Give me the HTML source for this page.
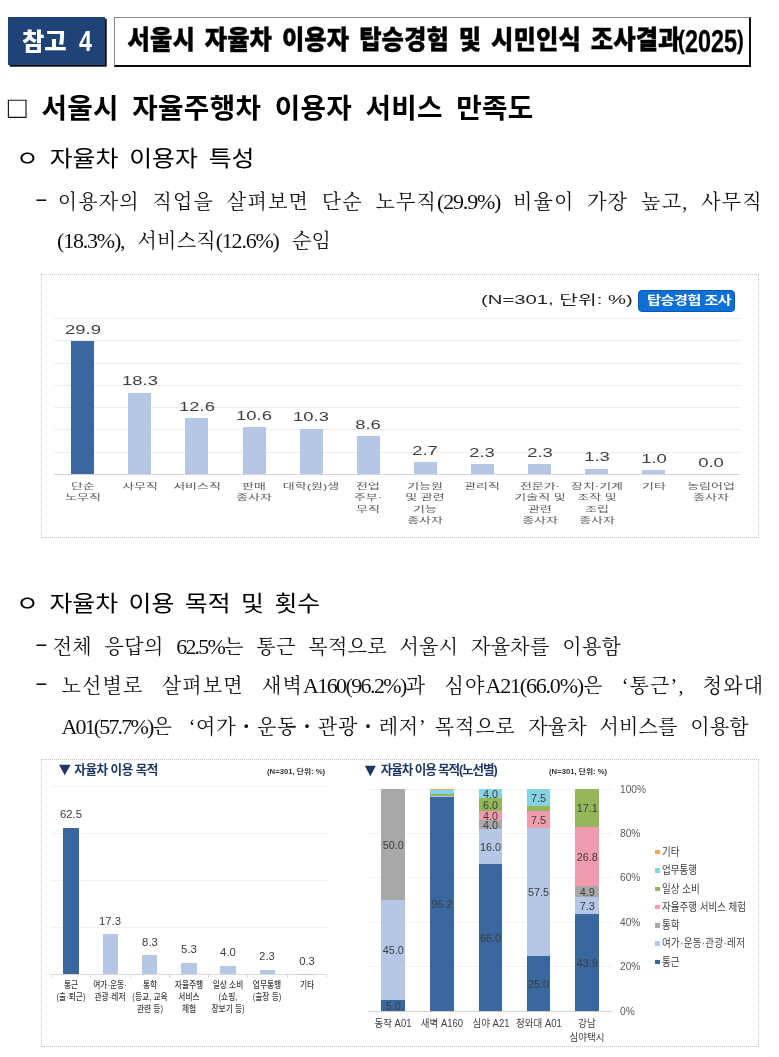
<!DOCTYPE html>
<html lang="ko">
<head>
<meta charset="utf-8">
<title>참고 4 서울시 자율차 이용자 탑승경험 및 시민인식 조사결과(2025)</title>
<style>
html,body{margin:0;padding:0;background:#fff;}
body{width:779px;height:1057px;position:relative;overflow:hidden;
  font-family:"Liberation Sans","Noto Sans CJK KR",sans-serif;color:#000;}
.abs{position:absolute;white-space:nowrap;}
.sx{display:inline-block;transform-origin:0 50%;white-space:nowrap;}
.hd{font-family:"Liberation Sans","Noto Sans CJK KR",sans-serif;font-weight:900;}
.serif{font-family:"Liberation Serif","Noto Serif CJK SC",serif;}
/* header */
#tag{left:8px;top:17px;width:96.5px;height:47.5px;background:#1f4376;box-shadow:1.7px 1.7px 0 #0c0c0c;}
#ttl{left:114px;top:16.5px;width:634px;height:47.5px;background:#fff;border-top:1px solid #8a8a8a;border-left:1px solid #8a8a8a;border-right:2px solid #0c0c0c;border-bottom:2px solid #0c0c0c;}
/* body text */
.h1{font-size:27.7px;font-weight:700;line-height:36px;}
.h2{font-size:22px;line-height:30px;font-weight:400;}
.p{font-size:20px;line-height:30px;color:#111;}
.n{font-size:22px;letter-spacing:-1.2px;}
.just{white-space:normal;text-align:justify;text-align-last:justify;}
/* charts */
.box{position:absolute;border:1px dotted #c4c4c4;background:#fff;box-sizing:border-box;}
.g{position:absolute;height:1px;background:#ececec;}
.g2{background:#f2f2f2;}
.bar{position:absolute;}
.lbl{position:absolute;text-align:center;white-space:nowrap;}
.v1{width:60px;font-size:12.3px;line-height:14px;color:#404040;transform:scaleX(1.5);}
.c1{width:80px;font-size:8.1px;line-height:11.65px;color:#5a5a5a;transform:scaleX(1.6);}
.n1{font-size:13px;line-height:18px;color:#222;}
#btn{background:#0c70d8;border:1px solid #0a58ad;border-radius:4px;box-sizing:border-box;}
.t2{font-size:12.6px;line-height:18px;font-weight:700;color:#1f3864;letter-spacing:-.5px;}
.tri{font-size:18px;line-height:18px;color:#1f3864;}
.n2{font-size:6.6px;line-height:10px;font-weight:700;color:#333;}
.v2{width:60px;font-size:11.8px;line-height:14px;color:#3c3c3c;transform:scaleX(.96);}
.c2{width:80px;font-size:9px;line-height:12.2px;color:#404040;font-weight:500;transform:scaleX(.86);}
.y2{font-size:10.2px;line-height:15px;color:#595959;}
.s2{width:60px;font-size:10.8px;line-height:14px;color:#3c3c3c;}
.r2{width:80px;font-size:10px;line-height:14px;color:#404040;transform:scaleX(.95);}
.l2{font-size:11.2px;line-height:16px;color:#404040;}
</style>
</head>
<body>

<!-- HEADER -->
<div class="abs" id="tag"></div>
<div class="abs hd" style="left:22px;top:21px;font-size:24.3px;line-height:38px;color:#fff;"><span class="sx">참고</span><span class="sx" style="margin-left:12px;font-size:29px;transform:scaleX(.8);position:relative;top:1.3px;">4</span></div>
<div class="abs" id="ttl"></div>
<div class="abs hd" style="left:127.5px;top:21px;font-size:24.3px;line-height:38px;color:#000;"><span class="sx" style="word-spacing:3px;letter-spacing:.1px;transform:scaleY(1.07);-webkit-text-stroke:.35px #000;">서울시 자율차 이용자 탑승경험 및 시민인식 조사결과</span></div>
<div class="abs hd" style="left:678px;top:21px;font-size:25.5px;line-height:38px;-webkit-text-stroke:.3px #000;"><span class="sx" style="transform:scaleX(.8);">(</span></div>
<div class="abs hd" style="left:684.5px;top:23px;font-size:31.4px;line-height:38px;-webkit-text-stroke:.3px #000;"><span class="sx" style="transform:scaleX(.745);">2025</span></div>
<div class="abs hd" style="left:737px;top:21px;font-size:25.5px;line-height:38px;-webkit-text-stroke:.3px #000;"><span class="sx" style="transform:scaleX(.8);">)</span></div>

<!-- SECTION HEADING -->
<div class="abs" style="left:7.7px;top:90px;font-size:31px;line-height:36px;font-weight:400;color:#111;">□</div>
<div class="abs h1" style="left:41.5px;top:91px;"><span class="sx" style="word-spacing:5.5px;letter-spacing:.3px;">서울시 자율주행차 이용자 서비스 만족도</span></div>

<!-- SUB 1 -->
<div class="abs h2" style="left:16px;top:143.5px;"><span class="sx" style="word-spacing:3.5px;transform:scaleX(1.13);">ㅇ 자율차 이용자 특성</span></div>
<div class="abs p serif" style="left:34.5px;top:182.5px;"><span class="sx" style="transform:scaleX(1.9);">-</span></div>
<div class="abs p serif just" style="left:57.7px;top:186.5px;width:705px;letter-spacing:1.2px;">이용자의 직업을 살펴보면 단순 노무직<span class="n">(29.9%)</span> 비율이 가장 높고, 사무직</div>
<div class="abs p serif" style="left:57px;top:226px;word-spacing:8px;letter-spacing:.2px;"><span class="n">(18.3%),</span> 서비스직<span class="n">(12.6%)</span> 순임</div>

<!-- CHART 1 -->
<div class="box" id="c1" style="left:41px;top:273.5px;width:717.5px;height:264px;"></div>
<div class="g" style="left:54px;width:686px;top:451.7px;"></div>
<div class="g" style="left:54px;width:686px;top:429.4px;"></div>
<div class="g" style="left:54px;width:686px;top:407.1px;"></div>
<div class="g" style="left:54px;width:686px;top:384.8px;"></div>
<div class="g" style="left:54px;width:686px;top:362.5px;"></div>
<div class="g" style="left:54px;width:686px;top:340.2px;"></div>
<div class="g" style="left:54px;width:686px;top:317.9px;"></div>
<div class="g" style="left:54px;width:686px;top:474px;background:#d4d4d4;"></div>
<div class="bar" style="left:71.2px;top:341.15px;width:23px;height:132.85px;background:#3b679f;"></div>
<div class="lbl v1" style="left:52.7px;top:322.65px;">29.9</div>
<div class="lbl c1" style="left:42.7px;top:480.5px;">단순<br>노무직</div>
<div class="bar" style="left:128.3px;top:392.88px;width:23px;height:81.12px;background:#b4c7e7;"></div>
<div class="lbl v1" style="left:109.8px;top:374.38px;">18.3</div>
<div class="lbl c1" style="left:99.8px;top:480.5px;">사무직</div>
<div class="bar" style="left:185.4px;top:418.3px;width:23px;height:55.7px;background:#b4c7e7;"></div>
<div class="lbl v1" style="left:166.9px;top:399.8px;">12.6</div>
<div class="lbl c1" style="left:156.9px;top:480.5px;">서비스직</div>
<div class="bar" style="left:242.5px;top:427.22px;width:23px;height:46.78px;background:#b4c7e7;"></div>
<div class="lbl v1" style="left:224px;top:408.72px;">10.6</div>
<div class="lbl c1" style="left:214px;top:480.5px;">판매<br>종사자</div>
<div class="bar" style="left:299.6px;top:428.56px;width:23px;height:45.44px;background:#b4c7e7;"></div>
<div class="lbl v1" style="left:281.1px;top:410.06px;">10.3</div>
<div class="lbl c1" style="left:271.1px;top:480.5px;">대학(원)생</div>
<div class="bar" style="left:356.7px;top:436.14px;width:23px;height:37.86px;background:#b4c7e7;"></div>
<div class="lbl v1" style="left:338.2px;top:417.64px;">8.6</div>
<div class="lbl c1" style="left:328.2px;top:480.5px;">전업<br>주부·<br>무직</div>
<div class="bar" style="left:413.8px;top:462.46px;width:23px;height:11.54px;background:#b4c7e7;"></div>
<div class="lbl v1" style="left:395.3px;top:443.96px;">2.7</div>
<div class="lbl c1" style="left:385.3px;top:480.5px;">기능원<br>및 관련<br>기능<br>종사자</div>
<div class="bar" style="left:470.9px;top:464.24px;width:23px;height:9.76px;background:#b4c7e7;"></div>
<div class="lbl v1" style="left:452.4px;top:445.74px;">2.3</div>
<div class="lbl c1" style="left:442.4px;top:480.5px;">관리직</div>
<div class="bar" style="left:528px;top:464.24px;width:23px;height:9.76px;background:#b4c7e7;"></div>
<div class="lbl v1" style="left:509.5px;top:445.74px;">2.3</div>
<div class="lbl c1" style="left:499.5px;top:480.5px;">전문가·<br>기술직 및<br>관련<br>종사자</div>
<div class="bar" style="left:585.1px;top:468.7px;width:23px;height:5.3px;background:#b4c7e7;"></div>
<div class="lbl v1" style="left:566.6px;top:450.2px;">1.3</div>
<div class="lbl c1" style="left:556.6px;top:480.5px;">장치·기계<br>조작 및<br>조립<br>종사자</div>
<div class="bar" style="left:642.2px;top:470.04px;width:23px;height:3.96px;background:#b4c7e7;"></div>
<div class="lbl v1" style="left:623.7px;top:451.54px;">1.0</div>
<div class="lbl c1" style="left:613.7px;top:480.5px;">기타</div>
<div class="lbl v1" style="left:680.8px;top:456px;">0.0</div>
<div class="lbl c1" style="left:670.8px;top:480.5px;">농림어업<br>종사자</div>
<div class="abs n1" style="left:481px;top:291px;"><span class="sx" style="transform:scaleX(1.56);">(N=301, 단위: %)</span></div>
<div class="abs" id="btn" style="left:638px;top:289.5px;width:97px;height:22px;"></div>
<div class="abs" style="left:646.5px;top:291.5px;font-size:12px;line-height:18px;font-weight:700;color:#fff;letter-spacing:-.6px;"><span class="sx" style="transform:scaleX(1.285);">탑승경험 조사</span></div>

<!-- SUB 2 -->
<div class="abs h2" style="left:16px;top:589px;"><span class="sx" style="word-spacing:3.2px;transform:scaleX(1.13);">ㅇ 자율차 이용 목적 및 횟수</span></div>
<div class="abs p serif" style="left:34.5px;top:628.3px;"><span class="sx" style="transform:scaleX(1.9);">-</span></div>
<div class="abs p serif" style="left:52.7px;top:632px;word-spacing:7.3px;letter-spacing:.33px;">전체 응답의 <span class="n" style="letter-spacing:-1.8px">62.5%</span>는 통근 목적으로 서울시 자율차를 이용함</div>
<div class="abs p serif" style="left:34.5px;top:667.3px;"><span class="sx" style="transform:scaleX(1.9);">-</span></div>
<div class="abs p serif just" style="left:61.4px;top:671px;width:703px;letter-spacing:1.2px;">노선별로 살펴보면 새벽<span class="n" style="letter-spacing:-1.6px">A160(96.2%)</span>과 심야<span class="n" style="letter-spacing:-1.2px">A21(66.0%)</span>은 ‘통근’, 청와대</div>
<div class="abs p serif" style="left:61.5px;top:711.5px;word-spacing:7.5px;letter-spacing:.2px;"><span class="n" style="letter-spacing:-1.85px">A01(57.7%)</span>은<span style="letter-spacing:.75px;margin-left:3.5px"> ‘여가・운동・관광・레저’</span><span style="letter-spacing:.9px;margin-left:-5px"> 목적으로</span> 자율차 서비스를 이용함</div>

<!-- CHART 2 -->
<div class="box" id="c2" style="left:41px;top:758.5px;width:717.5px;height:288.5px;"></div>
<div class="abs tri" style="left:54.6px;top:760.3px;"><span class="sx" style="transform:scaleX(1.1)">▼</span></div><div class="abs t2" style="left:74.3px;top:761px;">자율차 이용 목적</div>
<div class="abs n2" style="left:267px;top:766.8px;"><span class="sx" style="transform:scaleX(1.17)">(N=301, 단위: %)</span></div>
<div class="g g2" style="left:51px;width:276px;top:926.5px;"></div>
<div class="g g2" style="left:51px;width:276px;top:879.6px;"></div>
<div class="g g2" style="left:51px;width:276px;top:832.7px;"></div>
<div class="g g2" style="left:51px;width:276px;top:785.8px;"></div>
<div class="g" style="left:51px;width:276px;top:973.9px;background:#d9d9d9;"></div>
<div class="g" style="left:51.2px;width:1px;height:3.5px;top:974.4px;background:#d9d9d9;"></div>
<div class="g" style="left:90.45px;width:1px;height:3.5px;top:974.4px;background:#d9d9d9;"></div>
<div class="g" style="left:129.7px;width:1px;height:3.5px;top:974.4px;background:#d9d9d9;"></div>
<div class="g" style="left:168.95px;width:1px;height:3.5px;top:974.4px;background:#d9d9d9;"></div>
<div class="g" style="left:208.2px;width:1px;height:3.5px;top:974.4px;background:#d9d9d9;"></div>
<div class="g" style="left:247.45px;width:1px;height:3.5px;top:974.4px;background:#d9d9d9;"></div>
<div class="g" style="left:286.7px;width:1px;height:3.5px;top:974.4px;background:#d9d9d9;"></div>
<div class="g" style="left:325.95px;width:1px;height:3.5px;top:974.4px;background:#d9d9d9;"></div>
<div class="bar" style="left:63.45px;top:827.81px;width:15.5px;height:146.69px;background:#3b679f;"></div>
<div class="lbl v2" style="left:41.2px;top:807.31px;">62.5</div>
<div class="lbl c2" style="left:31.2px;top:978.7px;">통근<br>(출·퇴근)</div>
<div class="bar" style="left:102.7px;top:934.26px;width:15.5px;height:40.24px;background:#b4c7e7;"></div>
<div class="lbl v2" style="left:80.45px;top:913.76px;">17.3</div>
<div class="lbl c2" style="left:70.45px;top:978.7px;">여가·운동·<br>관광·레저</div>
<div class="bar" style="left:141.95px;top:955.45px;width:15.5px;height:19.05px;background:#b4c7e7;"></div>
<div class="lbl v2" style="left:119.7px;top:934.95px;">8.3</div>
<div class="lbl c2" style="left:109.7px;top:978.7px;">통학<br>(등교, 교육<br>관련 등)</div>
<div class="bar" style="left:181.2px;top:962.52px;width:15.5px;height:11.98px;background:#b4c7e7;"></div>
<div class="lbl v2" style="left:158.95px;top:942.02px;">5.3</div>
<div class="lbl c2" style="left:148.95px;top:978.7px;">자율주행<br>서비스<br>체험</div>
<div class="bar" style="left:220.45px;top:965.58px;width:15.5px;height:8.92px;background:#b4c7e7;"></div>
<div class="lbl v2" style="left:198.2px;top:945.08px;">4.0</div>
<div class="lbl c2" style="left:188.2px;top:978.7px;">일상 소비<br>(쇼핑,<br>장보기 등)</div>
<div class="bar" style="left:259.7px;top:969.58px;width:15.5px;height:4.92px;background:#b4c7e7;"></div>
<div class="lbl v2" style="left:237.45px;top:949.08px;">2.3</div>
<div class="lbl c2" style="left:227.45px;top:978.7px;">업무통행<br>(출장 등)</div>
<div class="bar" style="left:298.95px;top:974.29px;width:15.5px;height:0.5px;background:#b4c7e7;"></div>
<div class="lbl v2" style="left:276.7px;top:953.79px;">0.3</div>
<div class="lbl c2" style="left:266.7px;top:978.7px;">기타</div>
<div class="abs tri" style="left:361px;top:760.6px;"><span class="sx" style="transform:scaleX(1.05)">▼</span></div><div class="abs t2" style="left:380.8px;top:761.2px;letter-spacing:-1.1px;">자율차 이용 목적(노선별)</div>
<div class="abs n2" style="left:548.5px;top:767px;"><span class="sx" style="transform:scaleX(1.17)">(N=301, 단위: %)</span></div>
<div class="g g2" style="left:368px;width:244px;top:1010.5px;background:#d0d0d0;"></div>
<div class="abs y2" style="left:620px;top:1003.5px;">0%</div>
<div class="g g2" style="left:368px;width:244px;top:966.1px;"></div>
<div class="abs y2" style="left:620px;top:959.1px;">20%</div>
<div class="g g2" style="left:368px;width:244px;top:921.7px;"></div>
<div class="abs y2" style="left:620px;top:914.7px;">40%</div>
<div class="g g2" style="left:368px;width:244px;top:877.3px;"></div>
<div class="abs y2" style="left:620px;top:870.3px;">60%</div>
<div class="g g2" style="left:368px;width:244px;top:832.9px;"></div>
<div class="abs y2" style="left:620px;top:825.9px;">80%</div>
<div class="g g2" style="left:368px;width:244px;top:788.5px;"></div>
<div class="abs y2" style="left:620px;top:781.5px;">100%</div>
<div class="bar" style="left:381.3px;top:1000px;width:23.8px;height:11px;background:#3b679f;"></div>
<div class="lbl s2" style="left:363.2px;top:998.5px;">5.0</div>
<div class="bar" style="left:381.3px;top:900px;width:23.8px;height:100px;background:#b4c7e7;"></div>
<div class="lbl s2" style="left:363.2px;top:943px;">45.0</div>
<div class="bar" style="left:381.3px;top:789px;width:23.8px;height:111px;background:#a8a8a8;"></div>
<div class="lbl s2" style="left:363.2px;top:837.5px;">50.0</div>
<div class="lbl r2" style="left:353.2px;top:1017.2px;">동작 A01</div>
<div class="bar" style="left:429.9px;top:797px;width:23.8px;height:214px;background:#3b679f;"></div>
<div class="lbl s2" style="left:411.8px;top:897px;">96.2</div>
<div class="bar" style="left:429.9px;top:796px;width:23.8px;height:1px;background:#b4c7e7;"></div>
<div class="bar" style="left:429.9px;top:794px;width:23.8px;height:2px;background:#93b658;"></div>
<div class="bar" style="left:429.9px;top:790px;width:23.8px;height:4px;background:#86d3e2;"></div>
<div class="bar" style="left:429.9px;top:789px;width:23.8px;height:1px;background:#f0a860;"></div>
<div class="lbl r2" style="left:401.8px;top:1017.2px;">새벽 A160</div>
<div class="bar" style="left:478.6px;top:864px;width:23.8px;height:147px;background:#3b679f;"></div>
<div class="lbl s2" style="left:460.5px;top:930.5px;">66.0</div>
<div class="bar" style="left:478.6px;top:829px;width:23.8px;height:35px;background:#b4c7e7;"></div>
<div class="lbl s2" style="left:460.5px;top:839.5px;">16.0</div>
<div class="bar" style="left:478.6px;top:820px;width:23.8px;height:9px;background:#a8a8a8;"></div>
<div class="lbl s2" style="left:460.5px;top:817.5px;">4.0</div>
<div class="bar" style="left:478.6px;top:811px;width:23.8px;height:9px;background:#f19cae;"></div>
<div class="lbl s2" style="left:460.5px;top:808.5px;">4.0</div>
<div class="bar" style="left:478.6px;top:798px;width:23.8px;height:13px;background:#93b658;"></div>
<div class="lbl s2" style="left:460.5px;top:797.5px;">6.0</div>
<div class="bar" style="left:478.6px;top:789px;width:23.8px;height:9px;background:#86d3e2;"></div>
<div class="lbl s2" style="left:460.5px;top:786.5px;">4.0</div>
<div class="lbl r2" style="left:450.5px;top:1017.2px;">심야 A21</div>
<div class="bar" style="left:526.7px;top:956px;width:23.8px;height:55px;background:#3b679f;"></div>
<div class="lbl s2" style="left:508.6px;top:976.5px;">25.0</div>
<div class="bar" style="left:526.7px;top:828px;width:23.8px;height:128px;background:#b4c7e7;"></div>
<div class="lbl s2" style="left:508.6px;top:885px;">57.5</div>
<div class="bar" style="left:526.7px;top:811px;width:23.8px;height:17px;background:#f19cae;"></div>
<div class="lbl s2" style="left:508.6px;top:812.5px;">7.5</div>
<div class="bar" style="left:526.7px;top:806px;width:23.8px;height:5px;background:#93b658;"></div>
<div class="bar" style="left:526.7px;top:789px;width:23.8px;height:17px;background:#86d3e2;"></div>
<div class="lbl s2" style="left:508.6px;top:790.5px;">7.5</div>
<div class="lbl r2" style="left:498.6px;top:1017.2px;">청와대 A01</div>
<div class="bar" style="left:575.3px;top:914px;width:23.8px;height:97px;background:#3b679f;"></div>
<div class="lbl s2" style="left:557.2px;top:955.5px;">43.9</div>
<div class="bar" style="left:575.3px;top:897px;width:23.8px;height:17px;background:#b4c7e7;"></div>
<div class="lbl s2" style="left:557.2px;top:898.5px;">7.3</div>
<div class="bar" style="left:575.3px;top:886px;width:23.8px;height:11px;background:#a8a8a8;"></div>
<div class="lbl s2" style="left:557.2px;top:884.5px;">4.9</div>
<div class="bar" style="left:575.3px;top:827px;width:23.8px;height:59px;background:#f19cae;"></div>
<div class="lbl s2" style="left:557.2px;top:849.5px;">26.8</div>
<div class="bar" style="left:575.3px;top:789px;width:23.8px;height:38px;background:#93b658;"></div>
<div class="lbl s2" style="left:557.2px;top:801px;">17.1</div>
<div class="lbl r2" style="left:547.2px;top:1017.2px;">강남<br>심야택시</div>
<div class="bar" style="left:655px;top:849.9px;width:4.5px;height:4.5px;background:#f0a860;"></div>
<div class="abs l2" style="left:661.5px;top:843.9px;"><span class="sx" style="transform:scaleX(.85);">기타</span></div>
<div class="bar" style="left:655px;top:868.2px;width:4.5px;height:4.5px;background:#86d3e2;"></div>
<div class="abs l2" style="left:661.5px;top:862.2px;"><span class="sx" style="transform:scaleX(.85);">업무통행</span></div>
<div class="bar" style="left:655px;top:886.5px;width:4.5px;height:4.5px;background:#93b658;"></div>
<div class="abs l2" style="left:661.5px;top:880.5px;"><span class="sx" style="transform:scaleX(.85);">일상 소비</span></div>
<div class="bar" style="left:655px;top:904.8px;width:4.5px;height:4.5px;background:#f19cae;"></div>
<div class="abs l2" style="left:661.5px;top:898.8px;"><span class="sx" style="transform:scaleX(.85);">자율주행 서비스 체험</span></div>
<div class="bar" style="left:655px;top:923.1px;width:4.5px;height:4.5px;background:#a8a8a8;"></div>
<div class="abs l2" style="left:661.5px;top:917.1px;"><span class="sx" style="transform:scaleX(.85);">통학</span></div>
<div class="bar" style="left:655px;top:941.4px;width:4.5px;height:4.5px;background:#b4c7e7;"></div>
<div class="abs l2" style="left:661.5px;top:935.4px;"><span class="sx" style="transform:scaleX(.85);"><span style="letter-spacing:.4px">여가·운동·관광·레저</span></span></div>
<div class="bar" style="left:655px;top:959.7px;width:4.5px;height:4.5px;background:#3b679f;"></div>
<div class="abs l2" style="left:661.5px;top:953.7px;"><span class="sx" style="transform:scaleX(.85);">통근</span></div>

</body>
</html>
